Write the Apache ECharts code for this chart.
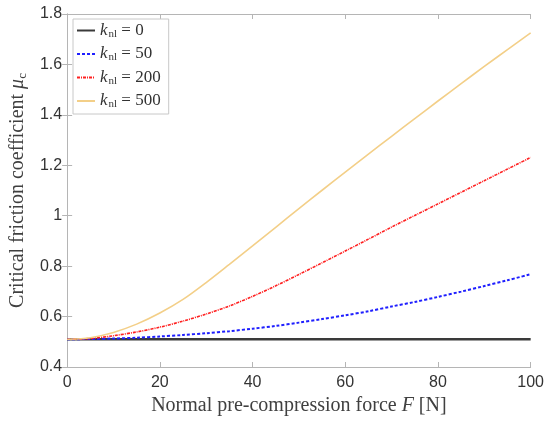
<!DOCTYPE html>
<html>
<head>
<meta charset="utf-8">
<script src="https://cdn.jsdelivr.net/npm/echarts@6/dist/echarts.min.js"></script>
<style>html,body{margin:0;padding:0;background:#fff}#c{width:547px;height:425px}</style>
</head>
<body>
<div id="c"></div>
<script>
// Data
var force = [0,5,10,15,20,25,30,35,40,45,50,55,60,65,70,75,80,85,90,95,100];
var mu_k0   = [0.51,0.51,0.51,0.51,0.51,0.51,0.51,0.51,0.51,0.51,0.51,0.51,0.51,0.51,0.51,0.51,0.51,0.51,0.51,0.51,0.51];
var mu_k50  = [0.510,0.511,0.513,0.516,0.521,0.527,0.534,0.542,0.552,0.563,0.576,0.590,0.605,0.621,0.640,0.658,0.678,0.699,0.721,0.744,0.768];
var mu_k200 = [0.510,0.513,0.524,0.539,0.558,0.582,0.610,0.642,0.680,0.722,0.767,0.813,0.860,0.907,0.955,1.001,1.047,1.093,1.139,1.185,1.231];
var mu_k500 = [0.510,0.516,0.537,0.570,0.614,0.668,0.735,0.807,0.880,0.954,1.028,1.101,1.173,1.244,1.315,1.385,1.455,1.524,1.592,1.659,1.725];
var knlValues = ['0','50','200','500'];

function pairs(ys){ return force.map(function(f,i){ return [f, ys[i]]; }); }

var chart = echarts.init(document.getElementById('c'), null, {renderer:'canvas'});
var axisGray = '#b5b5b5';
var labelColor = '#333';
var serif = '"Liberation Serif","DejaVu Serif",serif';
var sans = '"Liberation Sans",Arial,sans-serif';

var names = knlValues.map(function(v){ return 'k' + v; });

var option = {
  animation: false,
  backgroundColor: '#fff',
  grid: { left: 66, right: 15, top: 14, bottom: 58, containLabel: false },
  legend: {
    orient: 'vertical',
    left: 73, top: 19,
    data: names,
    backgroundColor: '#fff',
    borderColor: '#c8c8c8',
    borderWidth: 1,
    borderRadius: 0,
    padding: [3, 8, 4, 3],
    itemWidth: 18,
    itemHeight: 14,
    itemGap: 6,
    itemStyle: { opacity: 0 },
    formatter: function(name){
      return '{k|k}{s|nl}{t| = ' + name.slice(1) + '}';
    },
    textStyle: {
      color: labelColor,
      rich: {
        k: { fontFamily: serif, fontStyle: 'italic', fontSize: 17, color: labelColor, lineHeight: 18 },
        s: { fontFamily: serif, fontSize: 11, color: labelColor, lineHeight: 9, verticalAlign: 'bottom', padding: [0,0,0,1] },
        t: { fontFamily: serif, fontSize: 17, color: labelColor, lineHeight: 18 }
      }
    }
  },
  xAxis: [{
    type: 'value', min: 0, max: 100, interval: 20,
    name: 'Normal pre-compression force {i|F} [N]',
    nameLocation: 'middle', nameGap: 25,
    nameTextStyle: { fontFamily: serif, fontSize: 20, color: '#404040',
      rich: { i: { fontFamily: serif, fontStyle: 'italic', fontSize: 20, color: '#404040' } } },
    axisLine: { show: true, lineStyle: { color: axisGray, width: 1 } },
    axisTick: { show: true, inside: true, length: 5, lineStyle: { color: axisGray } },
    axisLabel: { fontFamily: sans, fontSize: 16, color: labelColor, margin: 8 },
    splitLine: { show: false }
  }, {
    type: 'value', min: 0, max: 100, interval: 20, position: 'top',
    axisLine: { show: true, lineStyle: { color: axisGray, width: 1 } },
    axisTick: { show: true, inside: true, length: 5, lineStyle: { color: axisGray } },
    axisLabel: { show: false }, splitLine: { show: false }
  }],
  yAxis: [{
    type: 'value', min: 0.4, max: 1.8, interval: 0.2,
    name: '{n|Critical friction coefficient }{m|μ}{s|c}',
    nameLocation: 'middle', nameGap: 36,
    nameTextStyle: {
      rich: {
        n: { fontFamily: serif, fontSize: 20, color: '#404040', lineHeight: 22 },
        m: { fontFamily: serif, fontStyle: 'italic', fontSize: 20, color: '#404040', lineHeight: 22 },
        s: { fontFamily: serif, fontSize: 13, color: '#404040', lineHeight: 12, verticalAlign: 'bottom' }
      }
    },
    axisLine: { show: true, lineStyle: { color: axisGray, width: 1 } },
    axisTick: { show: true, inside: true, length: 5, lineStyle: { color: axisGray } },
    axisLabel: { fontFamily: sans, fontSize: 16, color: labelColor, margin: 5,
      formatter: function(v){ return (Math.round(v*10)/10).toString(); } },
    splitLine: { show: false }
  }, {
    type: 'value', min: 0.4, max: 1.8, interval: 0.2, position: 'right',
    axisLine: { show: true, lineStyle: { color: axisGray, width: 1 } },
    axisTick: { show: true, inside: true, length: 5, lineStyle: { color: axisGray } },
    axisLabel: { show: false }, splitLine: { show: false }
  }],
  series: [
    { name: names[0], type: 'line', data: pairs(mu_k0), symbol: 'none', smooth: false,
      lineStyle: { color: '#3a3a3a', width: 2.5, type: 'solid' }, itemStyle: { color: '#3a3a3a' } },
    { name: names[1], type: 'line', data: pairs(mu_k50), symbol: 'none', smooth: 0.3,
      lineStyle: { color: '#1f1fff', width: 2, type: [3, 2] }, itemStyle: { color: '#1f1fff' } },
    { name: names[2], type: 'line', data: pairs(mu_k200), symbol: 'none', smooth: 0.3,
      lineStyle: { color: '#ff2020', width: 1.6, type: [3, 1, 1, 1] }, itemStyle: { color: '#ff2020' } },
    { name: names[3], type: 'line', data: pairs(mu_k500), symbol: 'none', smooth: 0.3,
      lineStyle: { color: '#f3cf88', width: 1.6, type: 'solid' }, itemStyle: { color: '#f3cf88' } }
  ]
};
chart.setOption(option);
</script>
</body>
</html>
